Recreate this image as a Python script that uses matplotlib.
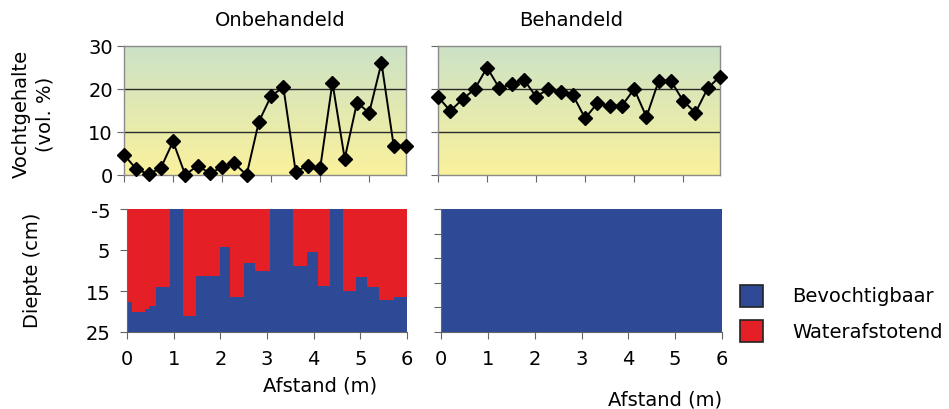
import numpy as np
import matplotlib
matplotlib.use("Agg")
import matplotlib.pyplot as plt
from matplotlib.patches import Rectangle

plt.rcParams['font.family'] = ['DejaVu Sans']
plt.rcParams['axes.unicode_minus'] = False

# ---------------- data ----------------
dist_top = [0, 0.25, 0.5, 0.75, 1.0, 1.25, 1.5, 1.75, 2.0, 2.25, 2.5, 2.75,
            3.0, 3.25, 3.5, 3.75, 4.0, 4.25, 4.5, 4.75, 5.0, 5.25, 5.5, 5.75]
moist_untreated = [4.7, 1.4, 0.2, 1.6, 7.8, 0.0, 2.2, 0.4, 1.8, 2.7, 0.0, 12.4,
                   18.4, 20.4, 0.8, 2.2, 1.6, 21.5, 3.8, 16.8, 14.5, 26.1, 6.7, 6.7]
moist_treated = [18.2, 14.9, 17.6, 20.0, 25.0, 20.2, 21.1, 22.2, 18.2, 20.0, 19.2, 18.6,
                 13.2, 16.7, 16.1, 16.1, 20.0, 13.5, 21.9, 21.9, 17.2, 14.5, 20.2, 22.9]

# depth profile (untreated): boundary between water-repellent (top) and wettable (bottom)
edge_x = [0, 0.11, 0.38, 0.47, 0.63, 0.92, 1.19, 1.48, 1.99, 2.21, 2.51, 2.75,
          3.07, 3.55, 3.86, 4.09, 4.36, 4.62, 4.91, 5.15, 5.40, 5.72, 6.0]
boundary_depth = [17.7, 20.0, 19.3, 18.6, 14.1, -5, 21.0, 11.4, 4.3, 16.5, 8.1, 10.0,
                  -5, 8.8, 5.4, 13.9, -5, 15.1, 11.6, 14.1, 17.1, 16.5]

titles = ["Onbehandeld", "Behandeld"]
legend_labels = ["Bevochtigbaar", "Waterafstotend"]
y_top_ticks = [0, 10, 20, 30]
y_bot_ticks = [-5, 5, 15, 25]
x_ticks = [0, 1, 2, 3, 4, 5, 6]

BLUE = "#2e4a96"
RED = "#e41f26"
W, H = 949, 410

fig = plt.figure(figsize=(W / 100, H / 100), dpi=100)


def ax_px(l, r, t, b):
    return fig.add_axes([l / W, 1 - b / H, (r - l) / W, (b - t) / H])


def fx(px):
    return px / W


def fy(py):
    return 1 - py / H


ax_tl = ax_px(124, 406, 47, 176)
ax_tr = ax_px(438, 720, 47, 176)
ax_bl = ax_px(127, 407, 210, 333)
ax_br = ax_px(441, 722, 210, 333)

top_col = np.array([204, 226, 198]) / 255
bot_col = np.array([250, 241, 156]) / 255
grad = np.linspace(0, 1, 256)[:, None]
grad_img = top_col[None, None, :] * (1 - grad[..., None]) + bot_col[None, None, :] * grad[..., None]
grad_img = np.repeat(grad_img, 2, axis=1)

FS = 14
for ax, vals in [(ax_tl, moist_untreated), (ax_tr, moist_treated)]:
    ax.imshow(grad_img, extent=[0, 5.75, 0, 30], aspect='auto', zorder=0, origin='upper')
    ax.set_xlim(0, 5.75)
    ax.set_ylim(0, 30)
    for g in [10, 20]:
        ax.axhline(g, color="#2a2a2a", lw=1.0, zorder=1)
    ax.plot(dist_top, vals, color="black", lw=1.4, marker="D", ms=7.5,
            mec="black", mfc="black", zorder=3, clip_on=False)
    ax.set_xticks([0, 1, 2, 3, 4, 5])
    ax.set_xticklabels([])
    ax.set_yticks(y_top_ticks)
    for s in ax.spines.values():
        s.set_color("#8a8a8a")
        s.set_linewidth(1.0)
    ax.tick_params(direction='out', length=5, color="#666666", labelsize=FS, pad=3)

ax_tr.set_yticklabels([])

fig.text(fx(280), fy(21), titles[0], ha='center', va='center', fontsize=FS)
fig.text(fx(571), fy(21), titles[1], ha='center', va='center', fontsize=FS)

# bottom left profile
ax_bl.set_xlim(0, 6)
ax_bl.set_ylim(25, -5)
bd = boundary_depth + [boundary_depth[-1]]
ax_bl.fill_between(edge_x, -5, bd, step='post', color=RED, lw=0)
ax_bl.fill_between(edge_x, bd, 25, step='post', color=BLUE, lw=0)
ax_bl.set_yticks(y_bot_ticks)

# bottom right profile (all wettable)
ax_br.set_xlim(0, 6)
ax_br.set_ylim(25, -5)
ax_br.fill_between([0, 6], -5, 25, color=BLUE, lw=0)
ax_br.set_yticks(list(np.linspace(-5, 25, 6)))
ax_br.set_yticklabels([])

for ax in [ax_bl, ax_br]:
    ax.set_xticks(x_ticks)
    for s in ax.spines.values():
        s.set_visible(False)
    ax.spines['left'].set_visible(True)
    ax.spines['bottom'].set_visible(True)
    ax.spines['left'].set_color("#666666")
    ax.spines['bottom'].set_color("#666666")
    ax.tick_params(direction='out', length=5, color="#666666", labelsize=FS, pad=7)

fig.text(fx(320), fy(386), "Afstand (m)", ha='center', va='center', fontsize=FS)
fig.text(fx(665), fy(400), "Afstand (m)", ha='center', va='center', fontsize=FS)

fig.text(fx(33), fy(114), "Vochtgehalte\n(vol. %)", rotation=90, ha='center',
         va='center', fontsize=FS, linespacing=1.3, multialignment='center')
fig.text(fx(33), fy(270), "Diepte (cm)", rotation=90, ha='center', va='center', fontsize=FS)

# legend
for i, (lab, col) in enumerate(zip(legend_labels, [BLUE, RED])):
    yc = 297 + i * 35
    fig.patches.append(Rectangle((fx(740), fy(yc + 11)), 23 / W, 22 / H,
                                 transform=fig.transFigure, facecolor=col,
                                 edgecolor="#222222", lw=1.2))
    fig.text(fx(792), fy(yc), lab, ha='left', va='center', fontsize=FS)

fig.savefig("out.png", dpi=100)
